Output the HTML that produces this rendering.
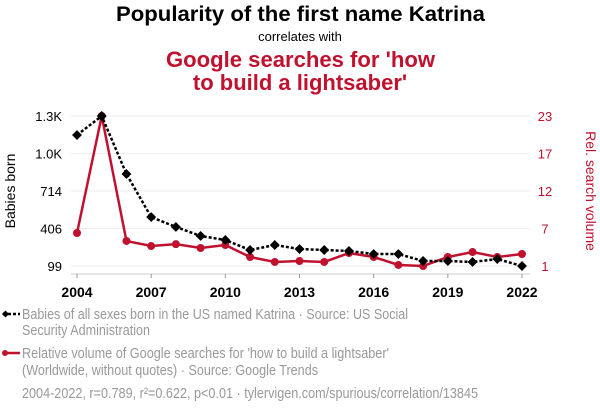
<!DOCTYPE html>
<html><head><meta charset="utf-8"><style>
body{margin:0;background:#fff;font-family:"Liberation Sans",sans-serif;}
svg{display:block}
</style></head><body>
<svg width="600" height="414" viewBox="0 0 600 414">
<text x="116" y="21" textLength="369" lengthAdjust="spacingAndGlyphs" font-size="21" font-weight="bold" fill="#000">Popularity of the first name Katrina</text>
<text x="300" y="41" text-anchor="middle" font-size="13" fill="#000">correlates with</text>
<text x="166" y="67" textLength="269" lengthAdjust="spacingAndGlyphs" font-size="22" font-weight="bold" fill="#c0112f">Google searches for 'how</text>
<text x="300" y="90" text-anchor="middle" font-size="22" font-weight="bold" fill="#c0112f">to build a lightsaber'</text>
<g id="grid"></g><g id="axes"></g><g id="series"></g>
<text transform="translate(15,191) rotate(-90)" text-anchor="middle" font-size="14" fill="#000">Babies born</text>
<text transform="translate(586,191) rotate(90)" text-anchor="middle" font-size="14" fill="#c0112f">Rel. search volume</text>
<g>
<line x1="3" y1="314" x2="20" y2="314" stroke="#000" stroke-width="2.5" stroke-dasharray="3,2"/>
<rect x="3" y="311.5" width="5" height="5" transform="rotate(45 5.5 314)" fill="#000"/>
<text x="22" y="319" textLength="386" lengthAdjust="spacingAndGlyphs" font-size="15" fill="#999">Babies of all sexes born in the US named Katrina · Source: US Social</text>
<text x="22" y="335" textLength="128" lengthAdjust="spacingAndGlyphs" font-size="15" fill="#999">Security Administration</text></g>
<g>
<line x1="3" y1="353" x2="20" y2="353" stroke="#c0112f" stroke-width="2.5"/>
<circle cx="5" cy="353" r="3" fill="#c0112f"/>
<text x="22" y="358" textLength="367" lengthAdjust="spacingAndGlyphs" font-size="15" fill="#999">Relative volume of Google searches for 'how to build a lightsaber'</text>
<text x="22" y="375" textLength="296" lengthAdjust="spacingAndGlyphs" font-size="15" fill="#999">(Worldwide, without quotes) · Source: Google Trends</text></g>
<text x="22" y="398" textLength="456" lengthAdjust="spacingAndGlyphs" font-size="15" fill="#999">2004-2022, r=0.789, r²=0.622, p&lt;0.01 · tylervigen.com/spurious/correlation/13845</text>
</svg>
<script>
const years=[2004,2005,2006,2007,2008,2009,2010,2011,2012,2013,2014,2015,2016,2017,2018,2019,2020,2021,2022];
const babies=[1172,1328,853,500,419,345,312,230,271,238,230,222,197,197,140,140,132,156,99];
const searches=[5.84,23,4.67,3.93,4.2,3.64,4.08,2.32,1.59,1.73,1.59,2.9,2.32,1.15,1,2.32,3.05,2.32,2.76];
const leftTicks=[99,406,714,1021,1328];
const leftTickLabels=["99","406","714","1.0K","1.3K"];
const rightTicks=[1,6.5,12,17.5,23];
const rightTickLabels=["1","7","12","17","23"];
const xTickYears=[2004,2007,2010,2013,2016,2019,2022];
const NS="http://www.w3.org/2000/svg";
const x=y=>77+(y-2004)*(522-77)/18;
const yl=v=>266-(v-99)*150/(1328-99);
const yr=v=>266-(v-1)*150/22;
function mk(t,a,p){const e=document.createElementNS(NS,t);for(const k in a)e.setAttribute(k,a[k]);p.appendChild(e);return e;}
const grid=document.getElementById('grid'),axes=document.getElementById('axes'),ser=document.getElementById('series');
leftTicks.forEach((v,i)=>{
 const g=mk('line',{x1:71,x2:530,y1:yl(v),y2:yl(v),stroke:'#eee','stroke-width':1},grid);
 
 
 const t=mk('text',{x:62,y:yl(v)+5,'text-anchor':'end','font-size':13,fill:'#000'},axes);t.textContent=leftTickLabels[i];
 
 
});
rightTicks.forEach((v,i)=>{
 const t=mk('text',{x:545,y:yr(v)+5,'text-anchor':'middle','font-size':13,fill:'#c0112f'},axes);t.textContent=rightTickLabels[i];
 
 
});
const ax=mk('line',{x1:71,x2:530,y1:274,y2:274,stroke:'#ccc'},axes);


xTickYears.forEach(yv=>{
 mk('line',{x1:x(yv),x2:x(yv),y1:274,y2:278,stroke:'#999'},axes);
 const t=mk('text',{x:x(yv),y:297,'text-anchor':'middle','font-size':14,'font-weight':'bold',fill:'#000'},axes);t.textContent=yv;
 
 
});
const rp=mk('polyline',{points:years.map((y,i)=>x(y)+','+yr(searches[i])).join(' '),fill:'none',stroke:'#c0112f','stroke-width':2.5},ser);


years.forEach((y,i)=>{const c=mk('circle',{cx:x(y),cy:yr(searches[i]),r:4,fill:'#c0112f'},ser);
 
 });
const bp=mk('polyline',{points:years.map((y,i)=>x(y)+','+yl(babies[i])).join(' '),fill:'none',stroke:'#000','stroke-width':2.5,'stroke-dasharray':'3,2'},ser);


years.forEach((y,i)=>{const cx=x(y),cy=yl(babies[i]);const d=mk('rect',{x:cx-3.5,y:cy-3.5,width:7,height:7,fill:'#000',transform:`rotate(45 ${cx} ${cy})`},ser);
 
 });
</script>
</body></html>
